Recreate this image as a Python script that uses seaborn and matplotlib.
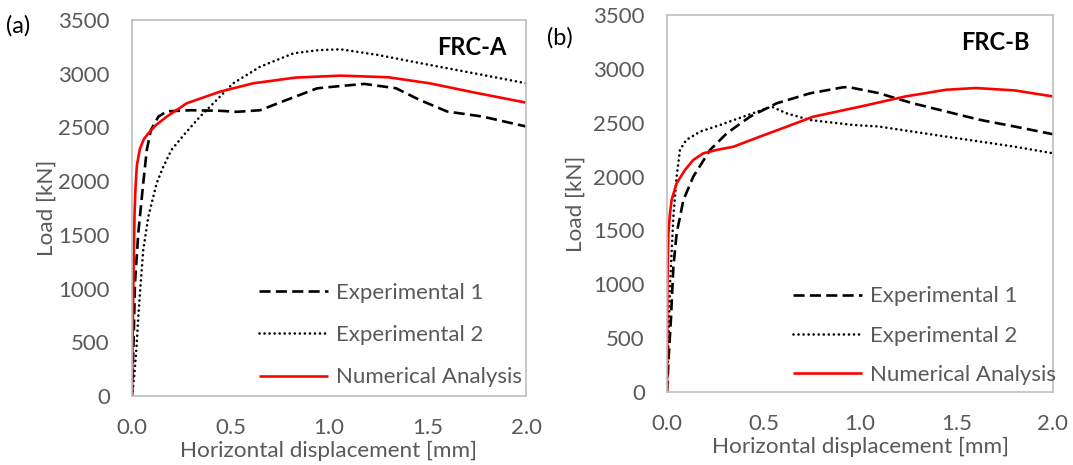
import matplotlib
matplotlib.use("Agg")
import matplotlib.pyplot as plt
import numpy as np
import pandas as pd
import seaborn as sns

# ---------------- Data: panel (a) FRC-A ----------------
a_exp1_x = [0, 0.008, 0.015, 0.032, 0.057, 0.075, 0.096, 0.134, 0.176, 0.30, 0.447, 0.53, 0.65, 0.785, 0.94, 1.06, 1.18, 1.34, 1.46, 1.60, 1.78, 2.0]
a_exp1_y = [0, 500, 1050, 1520, 1980, 2290, 2476, 2600, 2650, 2660, 2655, 2645, 2660, 2756, 2864, 2886, 2905, 2865, 2756, 2648, 2601, 2509]

a_exp2_x = [0, 0.012, 0.022, 0.032, 0.044, 0.057, 0.083, 0.125, 0.159, 0.20, 0.27, 0.345, 0.43, 0.514, 0.65, 0.82, 0.95, 1.06, 1.25, 1.51, 1.78, 2.0]
a_exp2_y = [0, 200, 430, 738, 1049, 1359, 1669, 1980, 2134, 2290, 2445, 2600, 2756, 2911, 3065, 3190, 3220, 3227, 3174, 3082, 2989, 2911]

a_num_x = [0, 0.003, 0.008, 0.013, 0.018, 0.025, 0.04, 0.06, 0.083, 0.12, 0.176, 0.278, 0.447, 0.616, 0.83, 1.06, 1.30, 1.51, 1.74, 2.0]
a_num_y = [0, 500, 1200, 1700, 1950, 2150, 2300, 2390, 2445, 2520, 2600, 2725, 2833, 2911, 2964, 2982, 2967, 2911, 2824, 2731]

# ---------------- Data: panel (b) FRC-B ----------------
b_exp1_x = [0, 0.008, 0.021, 0.033, 0.05, 0.085, 0.136, 0.223, 0.31, 0.43, 0.568, 0.741, 0.913, 0.94, 1.096, 1.27, 1.446, 1.62, 1.80, 2.0]
b_exp1_y = [0, 300, 699, 1163, 1473, 1783, 1999, 2247, 2402, 2556, 2680, 2773, 2829, 2831, 2775, 2682, 2604, 2527, 2465, 2393]

b_exp2_x = [0, 0.008, 0.016, 0.033, 0.05, 0.067, 0.10, 0.171, 0.275, 0.395, 0.517, 0.542, 0.62, 0.741, 0.965, 1.096, 1.446, 1.80, 2.0]
b_exp2_y = [0, 500, 1009, 1628, 1999, 2247, 2340, 2417, 2479, 2556, 2634, 2649, 2587, 2525, 2479, 2465, 2371, 2278, 2216]

b_num_x = [0, 0.002, 0.007, 0.015, 0.024, 0.05, 0.093, 0.136, 0.188, 0.257, 0.344, 0.48, 0.62, 0.758, 1.0, 1.236, 1.446, 1.60, 1.80, 2.0]
b_num_y = [0, 1009, 1473, 1650, 1783, 1938, 2061, 2154, 2216, 2247, 2277, 2370, 2463, 2556, 2649, 2744, 2806, 2822, 2800, 2744]

series_names = ["Experimental 1", "Experimental 2", "Numerical Analysis"]
x_ticks = [0.0, 0.5, 1.0, 1.5, 2.0]
x_tick_labels = ["0.0", "0.5", "1.0", "1.5", "2.0"]
y_ticks = [0, 500, 1000, 1500, 2000, 2500, 3000, 3500]
x_label = "Horizontal displacement [mm]"
y_label = "Load [kN]"

sns.set_theme(style="white")
plt.rcParams["font.family"] = ["Lato", "DejaVu Sans"]

GRAY = "#595959"
styles = {
    "Experimental 1": dict(color="black", linestyle=(0, (4.2, 2.0)), linewidth=1.9, cap="butt"),
    "Experimental 2": dict(color="black", linestyle=(0, (0.01, 1.9)), linewidth=1.9, cap="round"),
    "Numerical Analysis": dict(color="#ff0000", linestyle="-", linewidth=1.9, cap="butt"),
}


def make_df(xs_list, ys_list):
    frames = []
    for name, xs, ys in zip(series_names, xs_list, ys_list):
        frames.append(pd.DataFrame({"disp": xs, "load": ys, "series": name}))
    return pd.concat(frames, ignore_index=True)


def draw_panel(ax, df, title, letter, letter_pos, title_pos, ylab_x, legend_anchor, labelspacing):
    handles = []
    for name in series_names:
        sub = df[df["series"] == name]
        st = styles[name]
        sns.lineplot(data=sub, x="disp", y="load", ax=ax, sort=False, estimator=None,
                     color=st["color"], linestyle=st["linestyle"], linewidth=st["linewidth"])
        ln = ax.lines[-1]
        ln.set_dash_capstyle(st["cap"])
        ln.set_solid_capstyle("butt")
        handles.append(ln)
    ax.set_xlim(0, 2.0)
    ax.set_ylim(0, 3500)
    ax.set_xticks(x_ticks)
    ax.set_xticklabels(x_tick_labels)
    ax.set_yticks(y_ticks)
    ax.tick_params(axis="both", length=0, labelsize=16, colors=GRAY)
    ax.tick_params(axis="y", pad=16)
    ax.tick_params(axis="x", pad=16)
    for sp in ax.spines.values():
        sp.set_visible(True)
        sp.set_color("#bfbfbf")
        sp.set_linewidth(1.2)
    ax.set_xlabel(x_label, fontsize=16.2, color=GRAY)
    ax.set_ylabel(y_label, fontsize=16.2, color=GRAY)
    ax.xaxis.set_label_coords(0.5, -0.118)
    ax.yaxis.set_label_coords(ylab_x, 0.5)
    ax.text(title_pos[0], title_pos[1], title, transform=ax.transAxes, fontsize=17,
            fontweight="bold", color="black", ha="center", va="center")
    leg = ax.legend(handles, series_names, loc="center left", bbox_to_anchor=legend_anchor,
                    frameon=False, fontsize=16, handlelength=3.1, handletextpad=0.38,
                    labelspacing=labelspacing, borderpad=0, borderaxespad=0)
    for t in leg.get_texts():
        t.set_color(GRAY)
    ax.figure.text(letter_pos[0], letter_pos[1], letter, fontsize=17, color="black",
                   ha="left", va="center")


fig = plt.figure(figsize=(10.73, 4.65), dpi=100)
ax_a = fig.add_axes([132 / 1073, 69 / 465, 394 / 1073, 376 / 465])
ax_b = fig.add_axes([667 / 1073, 73 / 465, 386 / 1073, 377 / 465])

df_a = make_df([a_exp1_x, a_exp2_x, a_num_x], [a_exp1_y, a_exp2_y, a_num_y])
df_b = make_df([b_exp1_x, b_exp2_x, b_num_x], [b_exp1_y, b_exp2_y, b_num_y])

draw_panel(ax_a, df_a, "FRC-A", "(a)", (6 / 1073, 1 - 26 / 465), (0.863, 0.926), -0.190,
           (0.322, 0.162), 1.0)
draw_panel(ax_b, df_b, "FRC-B", "(b)", (547 / 1073, 1 - 38 / 465), (0.852, 0.926), -0.210,
           (0.326, 0.149), 0.87)

fig.savefig("out.png", dpi=100)
